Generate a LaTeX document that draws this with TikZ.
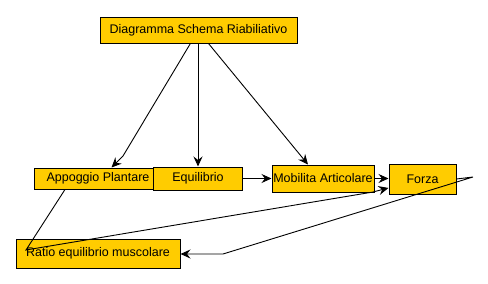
\documentclass[tikz,border=0pt]{standalone}
\usepackage{fontspec}
\setmainfont{Liberation Sans}
\usetikzlibrary{arrows.meta, calc}

\begin{document}
\begin{tikzpicture}[
        x=1pt, y=-1pt,
        box/.style={
            draw,
            fill=boxfill,
            line width=1pt,
            inner sep=0pt,
            align=center,
            font=\fontsize{12.5}{14}\selectfont
        },
        arrow/.style={-{Stealth[length=10pt, width=9pt, inset=3.5pt]}, line width=0.9pt},
        link/.style={line width=0.9pt}
    ]
        \definecolor{boxfill}{HTML}{FFCC00}
        \useasboundingbox[fill=white] (0,0) rectangle (488,284);

        % Nodo principale
        \node[box, minimum width=197pt, minimum height=26pt]
            (diagram) at (198.5,30) {Diagramma Schema Riabiliativo};

        % Riga centrale
        \node[box, minimum width=119pt, minimum height=21pt]
            (appoggio) at (93.5,178.5) {\hspace*{9pt}Appoggio Plantare};

        \node[box, minimum width=89pt, minimum height=23pt]
            (equilibrio) at (198,178.5) {Equilibrio};

        \node[box, minimum width=102pt, minimum height=27pt]
            (mobilita) at (323,178.5) {Mobilita Articolare};

        \node[box, minimum width=67pt, minimum height=30pt]
            (forza) at (422.5,179) {Forza};

        % Riga inferiore
        \node[box, minimum width=164pt, minimum height=29pt]
            (ratio) at (98,253.5) {Ratio equilibrio muscolare};

        % Punti di passaggio
        \coordinate (bendA) at (123,156);
        \coordinate (bendB) at (26,250);
        \coordinate (bendC) at (373,192);
        \coordinate (bendD) at (473,177);
        \coordinate (bendE) at (223,254);

        % Dal nodo principale
        \draw[arrow] (diagram) -- (bendA) -- ($(appoggio.north)+(18,0)$);
        \draw[arrow] (diagram.south -| equilibrio.north) -- (equilibrio.north);
        \draw[arrow] ($(diagram.south)+(10,0)$) -- ($(mobilita.north)+(-15,0)$);

        % Flusso orizzontale
        \draw[arrow] (equilibrio.east) -- (mobilita.west);
        \draw[arrow] (mobilita.east) -- (mobilita.east -| forza.west);

        % Appoggio verso Forza
        \draw[arrow] ($(appoggio.south)+(-28.5,0)$) -- (bendB) -- (bendC) -- (forza);

        % Forza verso Ratio
        \draw[arrow] (forza.east) -- (bendD) -- (bendE) -- (ratio.east |- bendE);

    \end{tikzpicture}
\end{document}
